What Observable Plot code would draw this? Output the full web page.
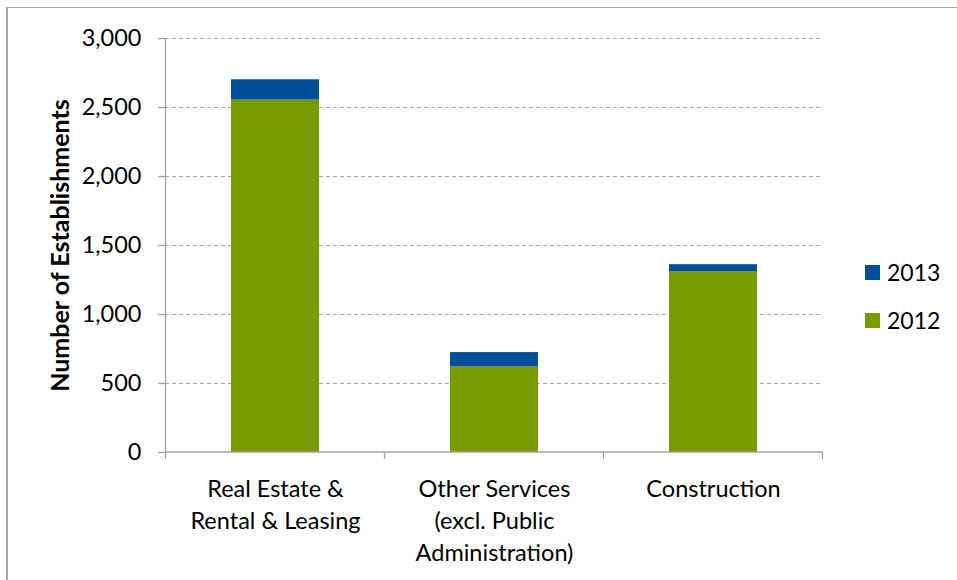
<!DOCTYPE html>
<html>
<head>
<meta charset="utf-8">
<script src="https://cdn.jsdelivr.net/npm/d3@7"></script>
<script src="https://cdn.jsdelivr.net/npm/@observablehq/plot@0.6"></script>
<style>
  html, body { margin: 0; padding: 0; background: #fff; }
  #wrap { position: relative; width: 957px; height: 580px; overflow: hidden; font-family: Lato, "Open Sans", sans-serif; }
  #border { position: absolute; left: 6px; top: 7px; width: 970px; height: 600px; border-left: 2px solid #a6a6a6; border-top: 1.5px solid #a6a6a6; box-sizing: border-box; }
  #chart { position: absolute; left: 0; top: 0; }
  #legend { position: absolute; left: 865px; top: 248px; font-size: 23px; color: #000; }
  .item { display: flex; align-items: center; height: 48px; }
  .sw { width: 15px; height: 15px; margin-right: 7px; }
</style>
</head>
<body>
<div id="wrap">
  <div id="border"></div>
  <div id="chart"></div>
  <div id="legend"></div>
</div>
<script>
const categories = ["Real Estate &\nRental & Leasing", "Other Services\n(excl. Public\nAdministration)", "Construction"];
const years = ["2012", "2013"];
const values2012 = [2554, 620, 1311];
const values2013 = [147, 104, 50];
const yTicks = [0, 500, 1000, 1500, 2000, 2500, 3000];
const colors = ["#789B00", "#004F98"];
const legendOrder = ["2013", "2012"];

const data = [];
categories.forEach((c, i) => {
  data.push({category: c, year: "2012", value: values2012[i]});
  data.push({category: c, year: "2013", value: values2013[i]});
});

const paddingInner = 0.6;
const axisGray = "#a0a0a0";

function bandAxis(index, scales, values, dimensions) {
  const x = scales.x;
  const y = scales.y;
  const step = x(categories[1]) - x(categories[0]);
  const bw = typeof x.bandwidth === "function" ? x.bandwidth() : step * (1 - paddingInner);
  const gap = (step - bw) / 2;
  const y0 = y(0);
  const g = d3.create("svg:g");
  const bounds = categories.map(c => x(c) - gap);
  bounds.push(x(categories[categories.length - 1]) + bw + gap);
  g.append("line")
    .attr("x1", bounds[0]).attr("x2", bounds[bounds.length - 1])
    .attr("y1", y0).attr("y2", y0)
    .attr("stroke", axisGray).attr("stroke-width", 1.3);
  g.append("line")
    .attr("x1", bounds[0]).attr("x2", bounds[0])
    .attr("y1", y(yTicks[yTicks.length - 1])).attr("y2", y0)
    .attr("stroke", axisGray).attr("stroke-width", 1.3);
  for (const b of bounds) {
    g.append("line")
      .attr("x1", b).attr("x2", b)
      .attr("y1", y0).attr("y2", y0 + 7)
      .attr("stroke", axisGray).attr("stroke-width", 1.3);
  }
  return g.node();
}

const chart = Plot.plot({
  width: 957,
  height: 580,
  marginLeft: 165,
  marginRight: 135,
  marginTop: 38,
  marginBottom: 128,
  style: {fontFamily: "Lato, 'Open Sans', sans-serif", fontSize: "23px", color: "#000", background: "transparent"},
  x: {domain: categories, paddingInner: 0.6, paddingOuter: 0.3, label: null},
  y: {domain: [0, 3000], label: null},
  color: {domain: years, range: colors},
  marks: [
    Plot.ruleY(yTicks.filter(d => d > 0), {stroke: "#a6a6a6", strokeWidth: 1.2, strokeDasharray: "4,3"}),
    Plot.barY(data, {x: "category", y: "value", fill: "year"}),
    bandAxis,
    Plot.axisY({ticks: yTicks, tickSize: 7, tickPadding: 17, stroke: axisGray, strokeWidth: 1.3, tickFormat: d3.format(","), fontSize: 23.5, label: null}),
    Plot.axisX({tickSize: 0, tickPadding: 22, lineHeight: 1.36, fontSize: 23.5, label: null}),
    Plot.text(["Number of Establishments"], {
      frameAnchor: "left", textAnchor: "middle", rotate: -90, dx: -105, fontWeight: "bold", fontSize: 25, fill: "#000", text: d => d
    })
  ]
});
document.getElementById("chart").appendChild(chart);

const legend = document.getElementById("legend");
for (const yr of legendOrder) {
  const item = document.createElement("div");
  item.className = "item";
  const sw = document.createElement("div");
  sw.className = "sw";
  sw.style.background = colors[years.indexOf(yr)];
  const t = document.createElement("span");
  t.textContent = yr;
  item.appendChild(sw);
  item.appendChild(t);
  legend.appendChild(item);
}
</script>
</body>
</html>
